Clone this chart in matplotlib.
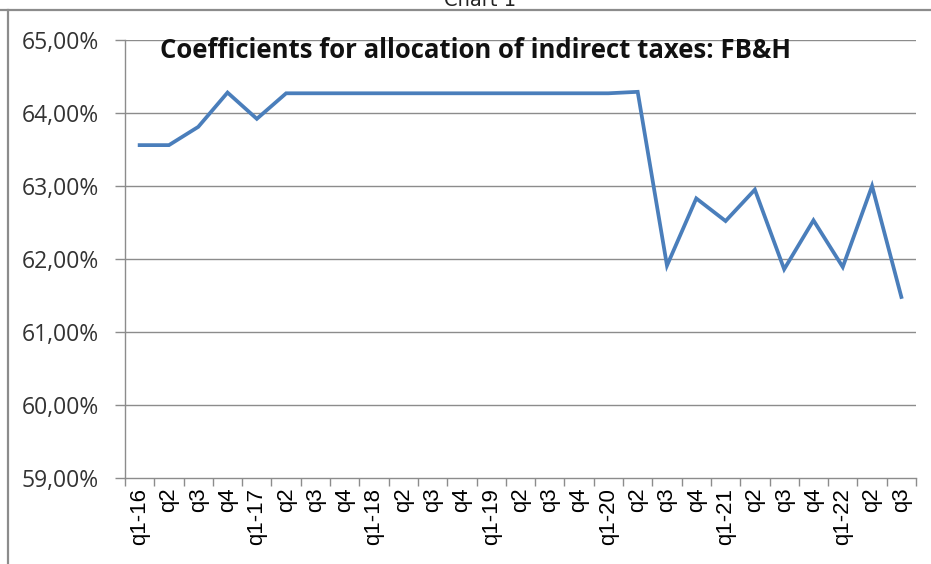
import matplotlib
matplotlib.use("Agg")
import matplotlib.pyplot as plt
from matplotlib.lines import Line2D
from matplotlib.ticker import FuncFormatter, FixedLocator

quarters = ["q1-16", "q2", "q3", "q4",
            "q1-17", "q2", "q3", "q4",
            "q1-18", "q2", "q3", "q4",
            "q1-19", "q2", "q3", "q4",
            "q1-20", "q2", "q3", "q4",
            "q1-21", "q2", "q3", "q4",
            "q1-22", "q2", "q3"]
coefficients = [63.56, 63.56, 63.81, 64.28,
                63.92, 64.27, 64.27, 64.27,
                64.27, 64.27, 64.27, 64.27,
                64.27, 64.27, 64.27, 64.27,
                64.27, 64.29, 61.91, 62.83,
                62.52, 62.95, 61.86, 62.53,
                61.89, 63.00, 61.48]
y_ticks = [59, 60, 61, 62, 63, 64, 65]

W, H = 931, 564
fig = plt.figure(figsize=(W / 100, H / 100), dpi=100)
fig.patch.set_facecolor("white")

# outer frame lines and caption
fig.add_artist(Line2D([0, 1], [1 - 10 / H, 1 - 10 / H], transform=fig.transFigure,
                      color="#8c8c8c", lw=1.6))
fig.add_artist(Line2D([8 / W, 8 / W], [0, 1 - 10 / H], transform=fig.transFigure,
                      color="#8c8c8c", lw=1.6))
fig.text(480 / W, 1 - 6 / H, "Chart 1", ha="center", va="baseline",
         fontsize=14, family="DejaVu Sans", color="#222222")

left, right, top, bottom = 125, 916, 40, 478
ax = fig.add_axes([left / W, 1 - bottom / H, (right - left) / W, (bottom - top) / H])

x = list(range(len(quarters)))
ax.plot(x, coefficients, color="#4a7ebb", lw=2.7, solid_joinstyle="miter")

ax.set_xlim(-0.5, len(quarters) - 0.5)
ax.set_ylim(59, 65)
ax.set_yticks(y_ticks)
ax.yaxis.set_major_formatter(FuncFormatter(lambda v, p: f"{v:.2f}%".replace(".", ",")))
for v in y_ticks[1:]:
    ax.axhline(v, color="#8c8c8c", lw=1.0, zorder=0)

ax.set_xticks(x)
ax.set_xticklabels(quarters, rotation=90, family="Liberation Sans", fontsize=16)
ax.tick_params(axis="x", which="major", length=0, pad=7)
ax.xaxis.set_minor_locator(FixedLocator([i - 0.5 for i in range(len(quarters) + 1)]))
ax.tick_params(axis="x", which="minor", length=6, color="#8c8c8c", width=1)
ax.tick_params(axis="y", length=7, color="#8c8c8c", width=1, pad=12,
               labelsize=16.5, labelcolor="#333333")
for lab in ax.get_yticklabels():
    lab.set_family("Open Sans")

for s in ["top", "right"]:
    ax.spines[s].set_visible(False)
for s in ["left", "bottom"]:
    ax.spines[s].set_color("#8c8c8c")
    ax.spines[s].set_linewidth(1.0)

ax.text(160 / W, 1 - 51 / H, "Coefficients for allocation of indirect taxes: FB&H",
        transform=fig.transFigure, ha="left", va="center", fontsize=18.5,
        fontweight="bold", family="Open Sans", color="#111111")

fig.savefig("out.png", dpi=100, facecolor="white")
